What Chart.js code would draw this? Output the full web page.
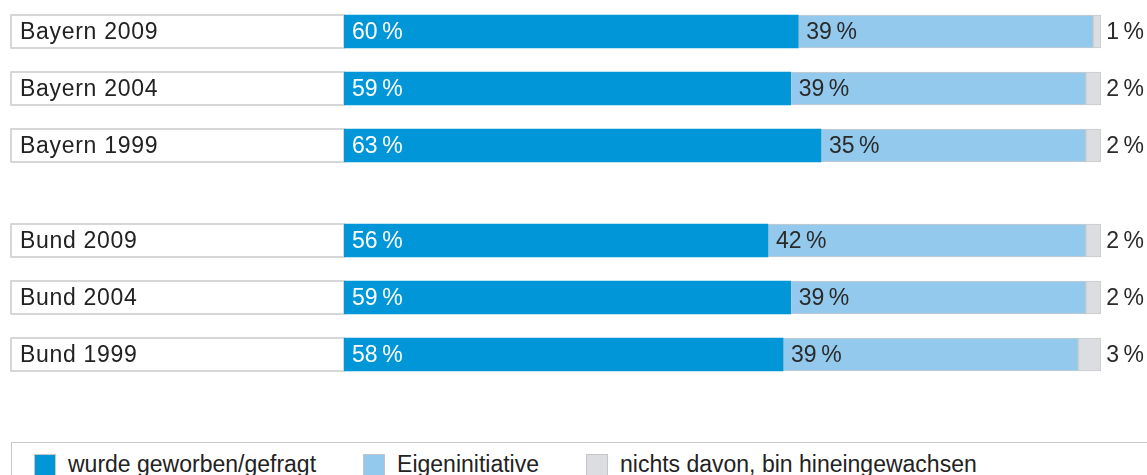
<!DOCTYPE html>
<html lang="de">
<head>
<meta charset="utf-8">
<title>Wie kam es zum Engagement?</title>
<script src="https://cdn.jsdelivr.net/npm/chart.js@4.4.1/dist/chart.umd.min.js"></script>
<style>
  html, body { margin: 0; padding: 0; background: #fff; }
  #wrap { position: relative; width: 1147px; height: 475px; overflow: hidden; font-family: "Liberation Sans", Arial, sans-serif; }
  .chartBox { position: absolute; left: 0; width: 1147px; height: 171px; }
  #legend {
    position: absolute; left: 11px; top: 442px; width: 1160px; height: 60px;
    border: 1.5px solid #c9c9c9; box-sizing: border-box;
    display: flex; align-items: flex-start; padding: 8px 0 0 22px;
  }
  .item { display: flex; align-items: center; margin-right: 47px; font-size: 23px; color: #222; }
  .swatch { width: 22px; height: 22px; box-sizing: border-box; border: 1px solid #c4c6c8; margin-right: 12px; }
</style>
</head>
<body>
<div id="wrap">
  <div class="chartBox" style="top:3px"><canvas id="chartBayern"></canvas></div>
  <div class="chartBox" style="top:212px"><canvas id="chartBund"></canvas></div>
  <div id="legend"></div>
</div>
<script>
// Kategorien
const labelsBayern = ['Bayern 2009', 'Bayern 2004', 'Bayern 1999'];
const labelsBund = ['Bund 2009', 'Bund 2004', 'Bund 1999'];

// Werte in Prozent
const geworbenBayern = [60, 59, 63];
const eigenBayern = [39, 39, 35];
const nichtsBayern = [1, 2, 2];

const geworbenBund = [56, 59, 58];
const eigenBund = [42, 39, 39];
const nichtsBund = [2, 2, 3];

// Legende
const seriesNames = ['wurde geworben/gefragt', 'Eigeninitiative', 'nichts davon, bin hineingewachsen'];
const seriesColors = ['#0096d8', '#92c9ec', '#dcdde0'];

const FONT = '23px "Liberation Sans", Arial, sans-serif';
const BORDER = '#c9cacc';

function pct(v) {
    return v + '\u2009%';
}

// Zeichnet die Beschriftungskästen links und die Prozentwerte
const barTextPlugin = {
    id: 'barText',
    beforeDatasetsDraw(chart) {
        const ctx = chart.ctx;
        const left = chart.chartArea.left;
        const meta = chart.getDatasetMeta(0);
        ctx.save();
        ctx.font = FONT;
        ctx.textBaseline = 'middle';
        meta.data.forEach((bar, i) => {
            const h = bar.height;
            ctx.fillStyle = '#fff';
            ctx.fillRect(11, bar.y - h / 2, left - 11, h);
            ctx.strokeStyle = BORDER;
            ctx.lineWidth = 1.5;
            ctx.strokeRect(11, bar.y - h / 2, left - 11, h);
            ctx.fillStyle = '#222';
            ctx.letterSpacing = '0.7px';
            ctx.fillText(chart.data.labels[i], 20, bar.y + 1);
            ctx.letterSpacing = '0px';
        });
        ctx.restore();
    },
    afterDatasetsDraw(chart) {
        const ctx = chart.ctx;
        ctx.save();
        ctx.font = FONT;
        ctx.textBaseline = 'middle';
        chart.data.datasets.forEach((ds, d) => {
            chart.getDatasetMeta(d).data.forEach((bar, i) => {
                const txt = pct(ds.data[i]);
                if (d === 0) {
                    ctx.fillStyle = '#fff';
                    ctx.textAlign = 'left';
                    ctx.fillText(txt, bar.base + 8, bar.y + 1);
                } else if (d === 1) {
                    ctx.fillStyle = '#2a2a2a';
                    ctx.textAlign = 'left';
                    ctx.fillText(txt, bar.base + 8, bar.y + 1);
                } else {
                    ctx.fillStyle = '#2a2a2a';
                    ctx.textAlign = 'right';
                    ctx.fillText(txt, chart.width - 3, bar.y + 1);
                }
            });
        });
        ctx.restore();
    }
};

function renderChart(id, labels, a, b, c) {
    const ctx = document.getElementById(id).getContext('2d');
    const values = [a, b, c];
    new Chart(ctx, {
        type: 'bar',
        data: {
            labels: labels,
            datasets: values.map((v, k) => ({
                label: seriesNames[k],
                data: v,
                backgroundColor: seriesColors[k],
                borderColor: BORDER,
                borderWidth: k === 0 ? 0 : 1,
                borderSkipped: false,
                barThickness: 33
            }))
        },
        options: {
            indexAxis: 'y',
            responsive: true,
            maintainAspectRatio: false,
            animation: false,
            layout: { padding: { left: 344, right: 46, top: 0, bottom: 0 } },
            scales: {
                x: { stacked: true, min: 0, max: 100, display: false },
                y: { stacked: true, display: false }
            },
            plugins: {
                legend: { display: false },
                tooltip: { enabled: false }
            }
        },
        plugins: [barTextPlugin]
    });
}

function renderLegend() {
    const box = document.getElementById('legend');
    seriesNames.forEach((name, k) => {
        const item = document.createElement('div');
        item.className = 'item';
        const sw = document.createElement('span');
        sw.className = 'swatch';
        sw.style.background = seriesColors[k];
        const t = document.createElement('span');
        t.textContent = name;
        item.appendChild(sw);
        item.appendChild(t);
        box.appendChild(item);
    });
}

renderChart('chartBayern', labelsBayern, geworbenBayern, eigenBayern, nichtsBayern);
renderChart('chartBund', labelsBund, geworbenBund, eigenBund, nichtsBund);
renderLegend();
</script>
</body>
</html>
